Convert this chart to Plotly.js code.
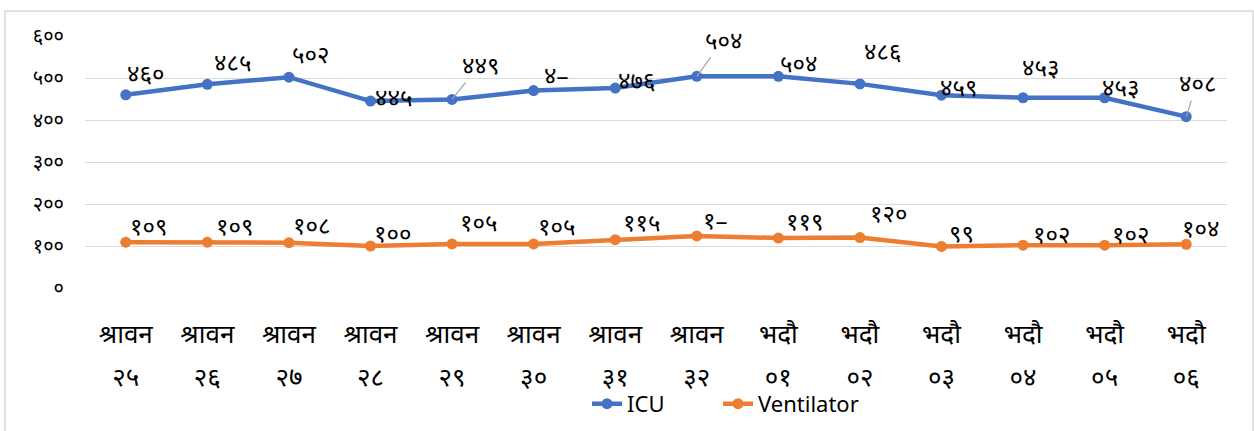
<!DOCTYPE html>
<html>
<head>
<meta charset="utf-8">
<script src="https://cdn.plot.ly/plotly-3.0.1.min.js"></script>
<style>
html,body{margin:0;padding:0;background:#fff;}
#chart{width:1254px;height:431px;}
</style>
</head>
<body>
<div id="chart"></div>
<script>
// ---- data ----
const monthLabels = ["श्रावन","श्रावन","श्रावन","श्रावन","श्रावन","श्रावन","श्रावन","श्रावन","भदौ","भदौ","भदौ","भदौ","भदौ","भदौ"];
const dayLabels = ["२५","२६","२७","२८","२९","३०","३१","३२","०१","०२","०३","०४","०५","०६"];
const icuValues = [460, 485, 502, 445, 449, 470, 476, 504, 504, 486, 459, 453, 453, 408];
const ventValues = [109, 109, 108, 100, 105, 105, 115, 124, 119, 120, 99, 102, 102, 104];
const icuLabels = ["४६०","४८५","५०२","४४५","४४९","४–","४७६","५०४","५०४","४८६","४५९","४५३","४५३","४०८"];
const ventLabels = ["१०९","१०९","१०८","१००","१०५","१०५","११५","१–","११९","१२०","९९","१०२","१०२","१०४"];
const yTickVals = [0, 100, 200, 300, 400, 500, 600];
const yTickText = ["०","१००","२००","३००","४००","५००","६००"];

// ---- label placement (pixel offsets from each point; layout only) ----
const icuOffsets = [[20,-22],[25,-23],[22,-24],[23,-5],[28,-35],[22,-16],[21,-9],[27,-37],[20,-14],[23,-33],[17,-9],[17,-31],[16,-11],[11,-34]];
const icuLeader = [false,false,false,false,true,false,false,true,false,false,false,false,false,true];
const ventOffsets = [[23,-17],[27,-17],[23,-18],[22,-14],[26,-22],[23,-18],[26,-18],[18,-16],[26,-18],[29,-25],[20,-14],[28,-12],[26,-12],[14,-17]];

const xIdx = monthLabels.map((_, i) => i);

const FONT = "Noto Sans, DejaVu Sans, sans-serif";
const blue = "#4472C4", orange = "#ED7D31";

const traces = [
  {x: xIdx, y: icuValues, name: "ICU", type: "scatter", mode: "lines+markers", legend: "legend",
   line: {color: blue, width: 4.5}, marker: {color: blue, size: 11}},
  {x: xIdx, y: ventValues, name: "Ventilator", type: "scatter", mode: "lines+markers", legend: "legend2",
   line: {color: orange, width: 4.5}, marker: {color: orange, size: 11}},
  // carrier for the second (day-number) row of category labels
  {x: xIdx, y: ventValues, xaxis: "x2", yaxis: "y", type: "scatter", mode: "none",
   showlegend: false, hoverinfo: "skip"}
];

const annotations = [];
function addLabels(vals, labels, offs, leaders) {
  vals.forEach((v, i) => {
    const [dx, dy] = offs[i];
    const lead = leaders && leaders[i];
    if (lead) {
      annotations.push({x: i, y: v, xref: "x", yref: "y", text: labels[i],
        showarrow: true, arrowhead: 0, arrowwidth: 1.2, arrowcolor: "#a6a6a6",
        ax: dx, ay: dy, standoff: 0, font: {family: FONT, size: 24, color: "#000"}});
    } else {
      annotations.push({x: i, y: v, xref: "x", yref: "y", text: labels[i],
        showarrow: false, xshift: dx, yshift: -dy, xanchor: "center", yanchor: "middle",
        font: {family: FONT, size: 24, color: "#000"}});
    }
  });
}
addLabels(icuValues, icuLabels, icuOffsets, icuLeader);
addLabels(ventValues, ventLabels, ventOffsets, null);

const xCommon = {range: [-0.5, 13.5], tickmode: "array", tickvals: xIdx,
  showgrid: false, zeroline: false, showline: false, ticks: "", fixedrange: true, automargin: false,
  tickfont: {family: FONT, size: 26, color: "#000"}};

const legendFont = {family: FONT, size: 22, color: "#000"};

const layout = {
  width: 1254, height: 431,
  margin: {l: 85, r: 27, t: 36, b: 143, autoexpand: false},
  paper_bgcolor: "#fff", plot_bgcolor: "#fff",
  font: {family: FONT, color: "#000"},
  showlegend: true,
  legend: {orientation: "h", x: 0.4396, xanchor: "left", y: -0.46, yanchor: "middle",
           font: legendFont, bgcolor: "rgba(0,0,0,0)"},
  legend2: {orientation: "h", x: 0.5543, xanchor: "left", y: -0.46, yanchor: "middle",
           font: legendFont, bgcolor: "rgba(0,0,0,0)"},
  xaxis: Object.assign({}, xCommon, {ticktext: monthLabels, ticklabelstandoff: 28}),
  xaxis2: Object.assign({}, xCommon, {ticktext: dayLabels, overlaying: "x", anchor: "y",
           side: "bottom", ticklabelstandoff: 71}),
  yaxis: {range: [0, 600], tickmode: "array", tickvals: yTickVals, ticktext: yTickText, automargin: false,
          showgrid: true, gridcolor: "#d9d9d9", gridwidth: 1, zeroline: false, showline: false,
          ticks: "", ticklabelstandoff: 20, tickfont: {family: FONT, size: 20, color: "#000"}, fixedrange: true},
  annotations: annotations,
  shapes: [{type: "rect", xref: "paper", yref: "paper",
            x0: (5 - 85) / 1142, x1: (1253 - 85) / 1142, y0: (288 - 440) / 252, y1: (288 - 11) / 252,
            line: {color: "#d9d9d9", width: 1.5}, fillcolor: "rgba(0,0,0,0)", layer: "below"}]
};

Plotly.newPlot("chart", traces, layout, {displayModeBar: false, staticPlot: true});
</script>
</body>
</html>
